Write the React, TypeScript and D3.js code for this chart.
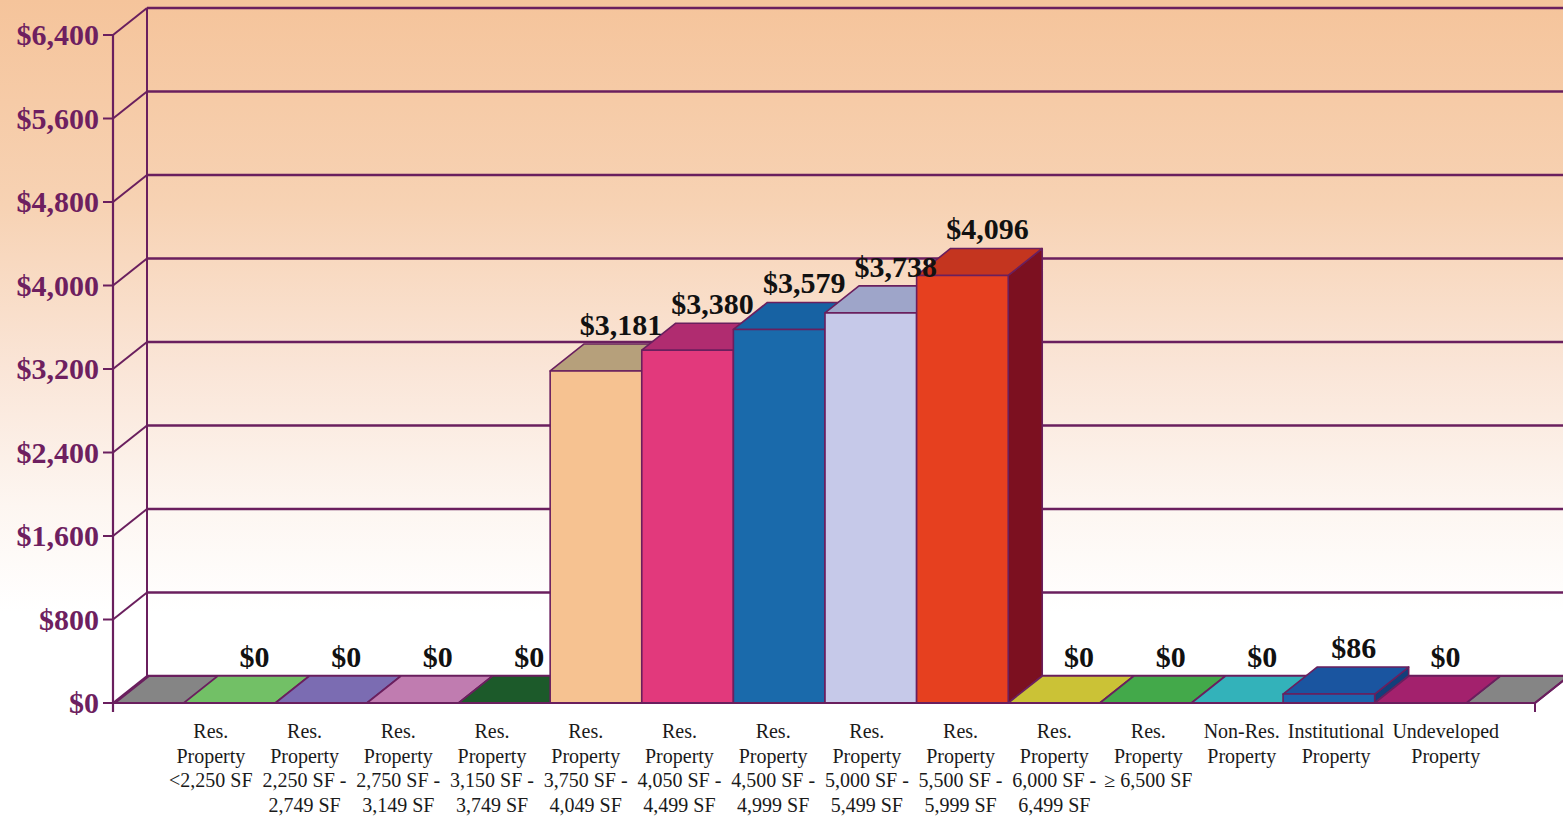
import React from "react";
import * as d3 from "d3";

const categories: string[][] = [
  ["Res.", "Property", "<2,250 SF"],
  ["Res.", "Property", "2,250 SF -", "2,749 SF"],
  ["Res.", "Property", "2,750 SF -", "3,149 SF"],
  ["Res.", "Property", "3,150 SF -", "3,749 SF"],
  ["Res.", "Property", "3,750 SF -", "4,049 SF"],
  ["Res.", "Property", "4,050 SF -", "4,499 SF"],
  ["Res.", "Property", "4,500 SF -", "4,999 SF"],
  ["Res.", "Property", "5,000 SF -", "5,499 SF"],
  ["Res.", "Property", "5,500 SF -", "5,999 SF"],
  ["Res.", "Property", "6,000 SF -", "6,499 SF"],
  ["Res.", "Property", "\u2265 6,500 SF"],
  ["Non-Res.", "Property"],
  ["Institutional", "Property"],
  ["Undeveloped", "Property"],
];
const values: number[] = [0, 0, 0, 0, 3181, 3380, 3579, 3738, 4096, 0, 0, 0, 86, 0];
const frontColors: string[] = [
  "#72c066", "#7b6cb2", "#c07cb0", "#1c5a2a", "#f6c291", "#e2397c", "#1a6aab",
  "#c6c9e9", "#e6401f", "#cbc236", "#43a94a", "#33b2ba", "#1c64ad", "#a3216d",
];
const topColors: string[] = [
  "#72c066", "#7b6cb2", "#c07cb0", "#1c5a2a", "#b6a07b", "#b02c70", "#1762a3",
  "#9ea5c9", "#c4351f", "#cbc236", "#43a94a", "#33b2ba", "#1a55a0", "#a3216d",
];
const sideColors: string[] = [
  "#4f8a48", "#544a80", "#8a5580", "#103a1a", "#b08a60", "#9a1f55", "#0f4a7a",
  "#8d90b0", "#7c1020", "#908a20", "#2e7834", "#207e84", "#123f7a", "#701548",
];
const yTicks: number[] = [0, 800, 1600, 2400, 3200, 4000, 4800, 5600, 6400];

const W = 1563;
const H = 816;
const DX = 34;
const DY = -27;
const AXIS_X = 113;
const EDGE = "#6a1f5e";
const FONT = "'Liberation Serif', 'Times New Roman', serif";
const CAT_SIZE = 20;

function measure(text: string): number {
  if (typeof document === "undefined") return text.length * 9;
  const c = document.createElement("canvas").getContext("2d");
  if (!c) return text.length * 9;
  c.font = `${CAT_SIZE}px ${FONT}`;
  return c.measureText(text).width;
}

export default function App() {
  const y = d3.scaleLinear().domain([0, 6400]).range([703, 35]);
  const x = d3
    .scaleBand<number>()
    .domain(d3.range(categories.length))
    .range([115, 1535])
    .paddingInner(0)
    .paddingOuter(0.75);
  // category label scale (labels are spread slightly wider than the bars)
  const xl = d3.scaleBand<number>().domain(d3.range(categories.length)).range([164, 1476]);
  const bw = x.bandwidth();
  const [r0, r1] = x.range();
  const y0 = y(0);
  const fmt = (v: number) => "$" + d3.format(",")(v);
  const poly = (pts: [number, number][]) => pts.map((p) => p.join(",")).join(" ");

  // label positions with collision avoidance (push right)
  const labelX: number[] = [];
  let prevRight = -Infinity;
  categories.forEach((lines, i) => {
    const w = d3.max(lines, (l) => measure(l)) || 0;
    let cx = (xl(i) as number) + xl.bandwidth() / 2;
    if (cx - w / 2 < prevRight + 8) cx = prevRight + 8 + w / 2;
    labelX.push(cx);
    prevRight = cx + w / 2;
  });

  return (
    <svg
      width={W}
      height={H}
      style={{ position: "absolute", left: 0, top: 0, display: "block" }}
      fontFamily={FONT}
    >
      <defs>
        <linearGradient id="bg" x1="0" y1="0" x2="0" y2="1">
          <stop offset="0%" stopColor="#f5c49b" />
          <stop offset="25%" stopColor="#f7d2b3" />
          <stop offset="45%" stopColor="#fae5d7" />
          <stop offset="62%" stopColor="#fdf6f1" />
          <stop offset="75%" stopColor="#ffffff" />
          <stop offset="100%" stopColor="#ffffff" />
        </linearGradient>
      </defs>
      <rect x={0} y={0} width={W} height={H} fill="url(#bg)" />

      {yTicks.map((t) => (
        <g key={"g" + t}>
          <line x1={AXIS_X + DX} x2={r1 + DX + 40} y1={y(t) + DY} y2={y(t) + DY} stroke={EDGE} strokeWidth={2.4} />
          <line x1={AXIS_X} x2={AXIS_X + DX} y1={y(t)} y2={y(t) + DY} stroke={EDGE} strokeWidth={2} />
          <line x1={AXIS_X - 10} x2={AXIS_X} y1={y(t)} y2={y(t)} stroke={EDGE} strokeWidth={2} />
          <text
            x={AXIS_X - 14}
            y={y(t) + 10}
            textAnchor="end"
            fontSize={30}
            fontWeight="bold"
            fill="#6e1f60"
          >
            {fmt(t)}
          </text>
        </g>
      ))}
      <line x1={AXIS_X + DX} x2={AXIS_X + DX} y1={y(6400) + DY} y2={y0 + DY} stroke={EDGE} strokeWidth={2} />

      <polygon
        points={poly([
          [r0, y0],
          [r1, y0],
          [r1 + DX, y0 + DY],
          [r0 + DX, y0 + DY],
        ])}
        fill="#858585"
        stroke={EDGE}
        strokeWidth={2}
      />

      {values.map((v, i) => {
        const xa = x(i) as number;
        const xb = xa + bw;
        const yt = y(v);
        return (
          <g key={"b" + i} stroke={EDGE} strokeWidth={1.6} strokeLinejoin="round">
            <polygon
              points={poly([
                [xb, y0],
                [xb + DX, y0 + DY],
                [xb + DX, yt + DY],
                [xb, yt],
              ])}
              fill={sideColors[i]}
            />
            <polygon
              points={poly([
                [xa, yt],
                [xb, yt],
                [xb + DX, yt + DY],
                [xa + DX, yt + DY],
              ])}
              fill={topColors[i]}
            />
            {v > 0 && <rect x={xa} y={yt} width={bw} height={y0 - yt} fill={frontColors[i]} />}
          </g>
        );
      })}

      <line x1={AXIS_X} x2={AXIS_X} y1={y(6400)} y2={y0 + 9} stroke={EDGE} strokeWidth={2.2} />
      <line x1={AXIS_X} x2={r1} y1={y0} y2={y0} stroke={EDGE} strokeWidth={2.2} />
      <line x1={r1} x2={r1} y1={y0} y2={y0 + 9} stroke={EDGE} strokeWidth={2} />
      <line x1={r1} x2={r1 + DX} y1={y0} y2={y0 + DY} stroke={EDGE} strokeWidth={2} />

      {values.map((v, i) => (
        <text
          key={"v" + i}
          x={(x(i) as number) + bw / 2 + 25}
          y={y(v) + DY - 9}
          textAnchor="middle"
          fontSize={30}
          fontWeight="bold"
          fill="#111"
        >
          {fmt(v)}
        </text>
      ))}

      {categories.map((lines, i) => (
        <text key={"c" + i} x={labelX[i]} y={738} textAnchor="middle" fontSize={CAT_SIZE} fill="#1a1a1a">
          {lines.map((l, j) => (
            <tspan key={j} x={labelX[i]} dy={j === 0 ? 0 : 24.5}>
              {l}
            </tspan>
          ))}
        </text>
      ))}
    </svg>
  );
}
